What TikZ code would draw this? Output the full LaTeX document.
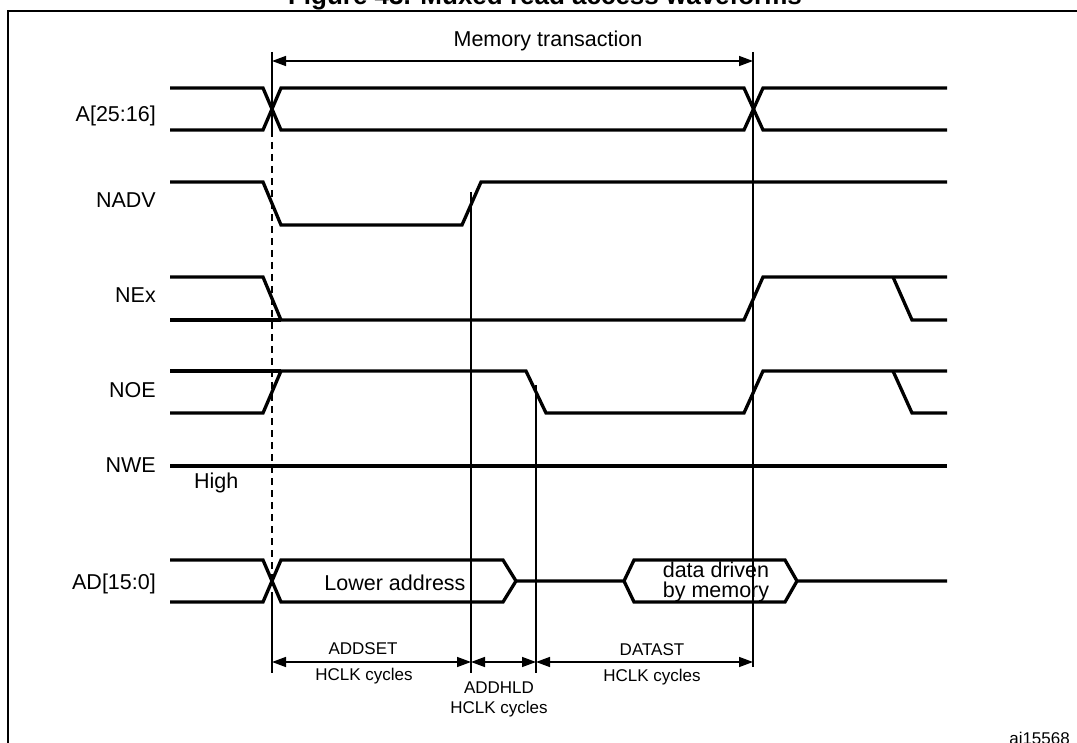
\documentclass[tikz,border=0pt]{standalone}
\usepackage{fontspec}
\setmainfont{Liberation Sans}
\usetikzlibrary{arrows.meta}
\begin{document}
\begin{tikzpicture}[x=1pt,y=-1pt,
  sig/.style={line width=3.3pt,line join=miter},
  vline/.style={line width=1.4pt},
  dimarrow/.style={line width=1.4pt,{Triangle[length=14pt,width=10pt]}-{Triangle[length=14pt,width=10pt]}},
  lab/.style={font=\fontsize{21.5}{24}\selectfont,inner sep=0pt},
  cyc/.style={font=\fontsize{17}{19}\selectfont,inner sep=0pt,anchor=base}]
\useasboundingbox (0,0) rectangle (1077,743);
\clip (0,0) rectangle (1077,743);
\node[anchor=base,font=\bfseries\fontsize{26}{28}\selectfont,inner sep=0pt] at (545,4.5) {Figure 43. Muxed read access waveforms};
\draw[line width=2pt] (8,760) -- (8,11) -- (1090,11);
\draw[dimarrow] (272,61) -- (753,61);
\node[lab,anchor=base] at (548,47) {Memory transaction};
\draw[vline] (272,52) -- (272,130);
\draw[vline,dash pattern=on 7pt off 5pt] (272,130) -- (272,585);
\draw[vline] (272,592) -- (272,673);
\draw[vline] (471,192) -- (471,673);
\draw[vline] (536,385) -- (536,673);
\draw[vline] (753,52) -- (753,667);
\draw[sig] (170,88) -- (263,88) -- (281,130) -- (744,130) -- (763,88) -- (947,88);
\draw[sig] (170,130) -- (263,130) -- (281,88) -- (744,88) -- (763,130) -- (947,130);
\node[lab,anchor=base east] at (156,122) {A[25:16]};
\draw[sig] (170,182) -- (263,182) -- (281,225) -- (462,225) -- (481,182) -- (947,182);
\node[lab,anchor=base east] at (156,208) {NADV};
\draw[sig] (170,277) -- (263,277) -- (281,320) -- (744,320) -- (763,277) -- (947,277);
\draw[sig] (170,320) -- (281,320);
\draw[sig] (893,277) -- (912,320) -- (947,320);
\node[lab,anchor=base east] at (156,303) {NEx};
\draw[sig] (170,413) -- (263,413) -- (281,371) -- (526,371) -- (546,413) -- (744,413) -- (763,371) -- (947,371);
\draw[sig] (170,371) -- (281,371);
\draw[sig] (893,371) -- (912,413) -- (947,413);
\node[lab,anchor=base east] at (156,398) {NOE};
\draw[sig] (170,466) -- (947,466);
\node[lab,anchor=base east] at (156,472) {NWE};
\node[lab,anchor=base west] at (194,488) {High};
\draw[sig] (170,560) -- (263,560) -- (281,602) -- (503,602) -- (516,581) -- (503,560) -- (281,560) -- (263,602) -- (170,602);
\draw[sig] (516,581) -- (624,581) -- (634,560) -- (785,560) -- (797,581) -- (947,581);
\draw[sig] (624,581) -- (634,602) -- (785,602) -- (797,581);
\node[lab,anchor=base east] at (156,589) {AD[15:0]};
\node[lab,anchor=base] at (395,590) {Lower address};
\node[lab,anchor=base] at (716,577) {data driven};
\node[lab,anchor=base] at (716,597) {by memory};
\draw[dimarrow] (272,662) -- (471,662);
\draw[dimarrow] (471,662) -- (536,662);
\draw[dimarrow] (536,662) -- (753,662);
\node[cyc] at (363,654) {ADDSET};
\node[cyc] at (364,680) {HCLK cycles};
\node[cyc] at (499,693) {ADDHLD};
\node[cyc] at (499,713) {HCLK cycles};
\node[cyc] at (652,655) {DATAST};
\node[cyc] at (652,681) {HCLK cycles};
\node[cyc,anchor=base east] at (1070,744) {ai15568};
\end{tikzpicture}
\end{document}
